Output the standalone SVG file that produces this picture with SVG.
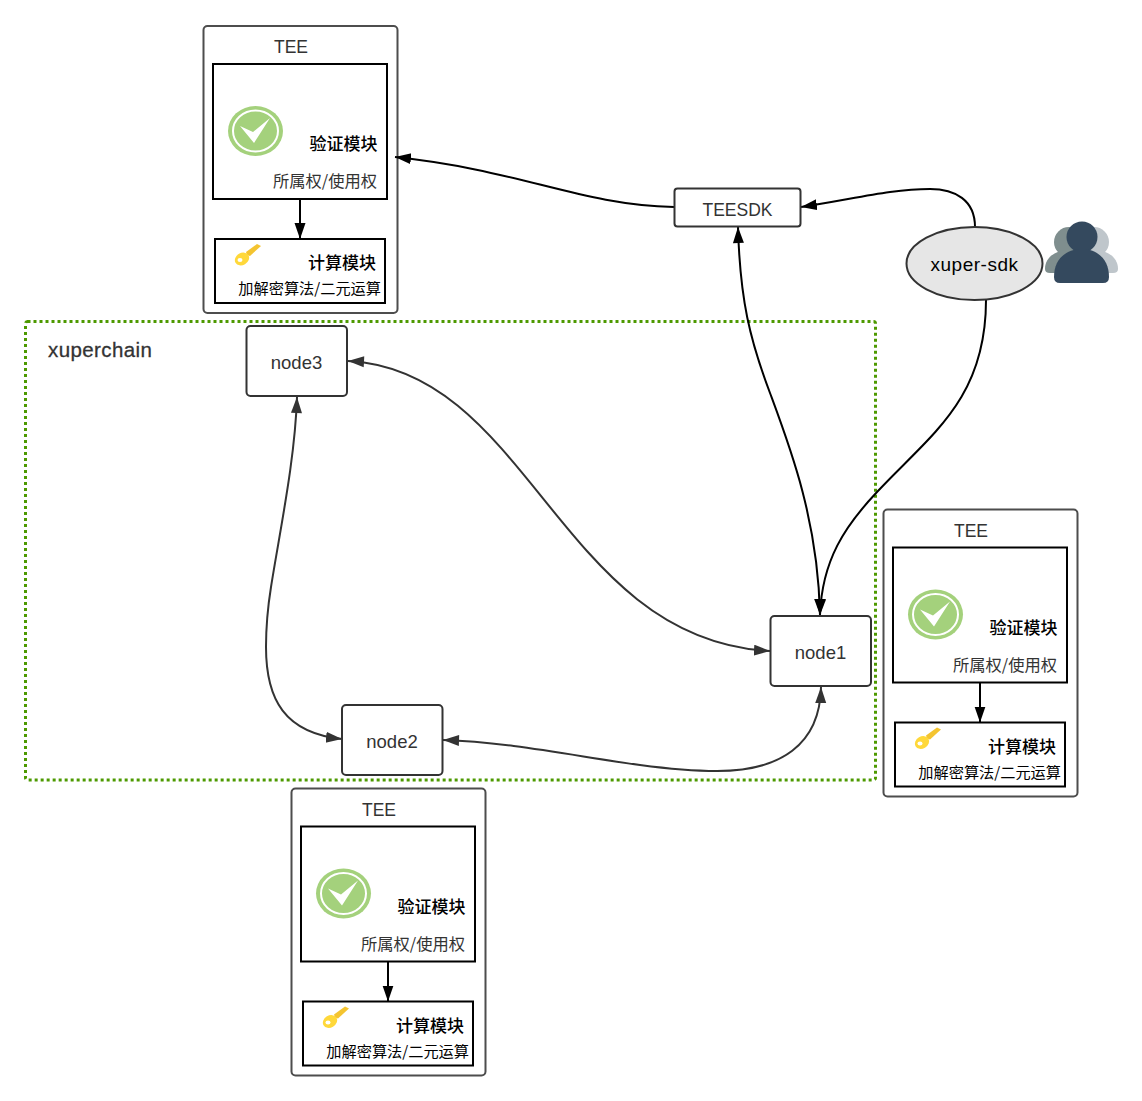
<svg xmlns="http://www.w3.org/2000/svg" xmlns:xlink="http://www.w3.org/1999/xlink" width="1142" height="1101" viewBox="0 0 1142 1101">
<style>
text{font-family:"Liberation Sans","Noto Sans CJK SC",sans-serif;}
.tee{fill:#fff;stroke:#4d4d4d;stroke-width:2}
.box{fill:#fff;stroke:#000;stroke-width:2}
.node{fill:#fff;stroke:#333;stroke-width:2}
.t{fill:#333;font-size:17.500px;text-anchor:middle}
.n{fill:#333;font-size:18.500px;text-anchor:middle}
.h{fill:#000;font-size:17px;text-anchor:end;font-family:"Noto Sans CJK SC",sans-serif;font-weight:500}
.s{fill:#333;font-size:16.300px;text-anchor:end;font-family:"Noto Sans CJK SC",sans-serif}
.c{fill:#000;font-size:15.200px;text-anchor:end;font-family:"Noto Sans CJK SC",sans-serif}
.k{fill:none;stroke:#000;stroke-width:2}
.g{fill:none;stroke:#333;stroke-width:2}
</style>
<defs>
<marker id="a" markerUnits="userSpaceOnUse" markerWidth="17" markerHeight="12" refX="16" refY="5.500" orient="auto"><path d="M0 0L16 5.500L0 11Z" fill="#000"/></marker>
<marker id="b" markerUnits="userSpaceOnUse" markerWidth="17" markerHeight="12" refX="16" refY="5.500" orient="auto"><path d="M0 0L16 5.500L0 11Z" fill="#333"/></marker>
<marker id="as" markerUnits="userSpaceOnUse" markerWidth="17" markerHeight="12" refX="0" refY="5.500" orient="auto"><path d="M16 0L0 5.500L16 11Z" fill="#000"/></marker>
<marker id="bs" markerUnits="userSpaceOnUse" markerWidth="17" markerHeight="12" refX="0" refY="5.500" orient="auto"><path d="M16 0L0 5.500L16 11Z" fill="#333"/></marker>
<g id="tee-body">
<rect class="tee" x="203.500" y="26" width="194" height="287" rx="4"/>
<text class="t" x="291" y="53">TEE</text>
<rect class="box" x="213" y="64" width="174" height="135"/>
<ellipse cx="255.500" cy="131" rx="27.500" ry="25" fill="#a4d17c"/>
<ellipse cx="255.500" cy="131" rx="22.500" ry="20.500" fill="none" stroke="#fff" stroke-width="2"/>
<path d="M240 126L253 132L270 118L254 143Z" fill="#fff"/>
<text class="h" x="377.500" y="150">验证模块</text>
<text class="s" x="377" y="187">所属权/使用权</text>
<path class="k" d="M300 199V239" marker-end="url(#a)"/>
<rect class="box" x="215" y="239" width="170" height="64"/>
<path d="M246 252L257 244L261 246L250 256L247 255Z" fill="#f4c430"/>
<ellipse cx="242" cy="259" rx="7.500" ry="6" fill="#ffd83a" transform="rotate(-30 242 259)"/>
<ellipse cx="240" cy="260" rx="2.500" ry="2" fill="#fff"/>
<text class="h" x="376" y="269">计算模块</text>
<text class="c" x="381" y="294">加解密算法/二元运算</text>
</g>
</defs>
<g id="xuperchain">
<rect x="25.500" y="321.500" width="850" height="458.500" rx="2" fill="none" stroke="#4d9900" stroke-width="3" stroke-dasharray="3 3"/>
<text x="48" y="357" font-size="20.500" letter-spacing="0.400" fill="#333" stroke="#333" stroke-width="0.300">xuperchain</text>
</g>
<g id="tee1"><use xlink:href="#tee-body" href="#tee-body"/></g>
<g id="tee2"><use xlink:href="#tee-body" href="#tee-body" x="680" y="483.500"/></g>
<g id="tee3"><use xlink:href="#tee-body" href="#tee-body" x="88" y="762.500"/></g>
<g id="connectors">
<path class="k" d="M674 207C580 205 520 170 395 157" marker-end="url(#a)"/>
<path class="k" d="M975 227C975 200 955 189 930 189C890 189 850 200 801 207" marker-end="url(#a)"/>
<path class="k" d="M986 300C986 400 930 435 877 492C845 526 822 560 820 615" marker-end="url(#a)"/>
<path class="k" d="M738 227C740 300 750 340 770 393C790 447 818 520 820 615" marker-start="url(#as)" marker-end="url(#a)"/>
<path class="g" d="M348 361C530 370 560 640 770 651" marker-start="url(#bs)" marker-end="url(#b)"/>
<path class="g" d="M297 397C295 460 280 530 271 587C267 612 266 632 266 647C266 700 285 733 342 739" marker-start="url(#bs)" marker-end="url(#b)"/>
<path class="g" d="M443 740C510 742 580 757 640 765C670 769 695 771 717 771C780 771 820 745 821 687" marker-start="url(#bs)" marker-end="url(#b)"/>
</g>
<g id="teesdk"><rect class="node" x="674.500" y="188.500" width="126" height="38" rx="3"/><text class="t" x="737.500" y="216">TEESDK</text></g>
<g id="node3"><rect class="node" x="246.500" y="326" width="100.500" height="70" rx="4"/><text class="n" x="296.500" y="369">node3</text></g>
<g id="node1"><rect class="node" x="770.500" y="616" width="100.500" height="70" rx="4"/><text class="n" x="820.500" y="659">node1</text></g>
<g id="node2"><rect class="node" x="342" y="705" width="100.500" height="70" rx="4"/><text class="n" x="392" y="748">node2</text></g>
<g id="xuper-sdk"><ellipse cx="974.500" cy="263.500" rx="68" ry="36.500" fill="#e6e6e6" stroke="#333" stroke-width="2"/><text x="974.500" y="271" font-size="19" letter-spacing="0.500" text-anchor="middle" fill="#000">xuper-sdk</text></g>
<g id="users">
<circle cx="1069" cy="242" r="15" fill="#7f8e8e"/><path d="M1045 269C1045 257 1056 250 1069 250C1080 250 1088 257 1088 269Q1088 273 1083 273H1050Q1045 273 1045 269Z" fill="#7f8e8e"/>
<circle cx="1094" cy="242" r="15" fill="#bfc6cb"/><path d="M1075 269C1075 257 1084 250 1094 250C1107 250 1118 257 1118 269Q1118 273 1113 273H1080Q1075 273 1075 269Z" fill="#bfc6cb"/>
<circle cx="1082" cy="237" r="15.500" fill="#34495e"/><path d="M1054 277C1054 259 1066 249 1082 249C1097 249 1109 259 1109 277Q1109 283 1103 283H1060Q1054 283 1054 277Z" fill="#34495e"/>
</g>
</svg>
